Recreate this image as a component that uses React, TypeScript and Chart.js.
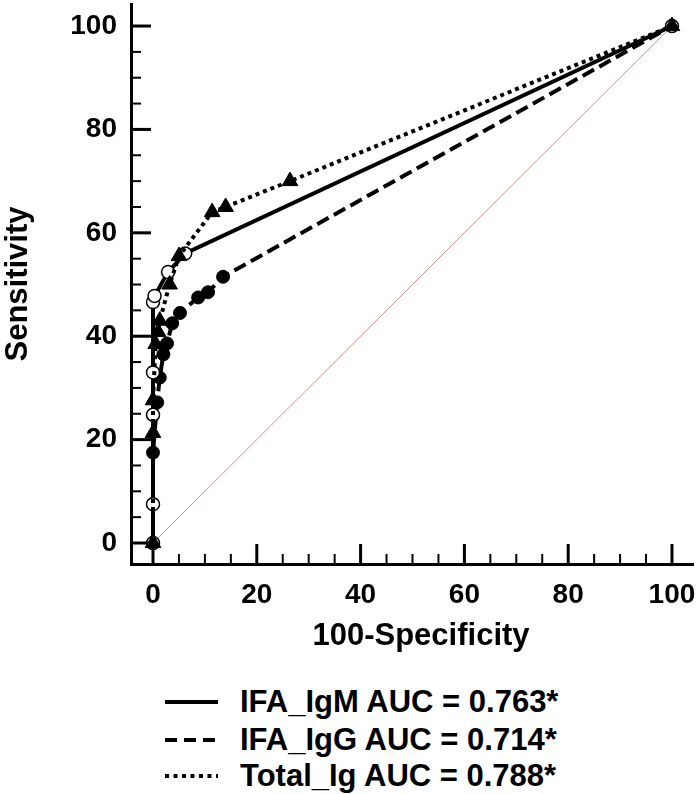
import React, { useEffect, useRef } from "react";
import { Chart, registerables } from "chart.js";

Chart.register(...registerables);

// ---- data ----
const igmX = [0, 0, 0, 0, 0, 0.3, 2.9, 6.2, 100];
const igmY = [0, 7.5, 24.8, 33, 46.6, 47.8, 52.4, 56, 100];

const iggX = [0, 0, 0.8, 1.3, 2, 2.7, 3.7, 5.2, 8.7, 10.6, 13.5, 100];
const iggY = [0, 17.5, 27.2, 32, 36.5, 38.6, 42.5, 44.5, 47.5, 48.5, 51.5, 100];

const totalX = [0, 0, 0, 0.5, 1, 1.3, 3.2, 5, 11.4, 14, 26.4, 100];
const totalY = [0, 21.3, 27.6, 38.5, 40.8, 43, 50, 55.5, 64, 65, 70, 100];

const diagX = [0, 100];
const diagY = [0, 100];

const majorTicks = [0, 20, 40, 60, 80, 100];
const minorTicks = [5, 10, 15, 25, 30, 35, 45, 50, 55, 65, 70, 75, 85, 90, 95];

const xTitle = "100-Specificity";
const yTitle = "Sensitivity";
const legendLabels = ["IFA_IgM AUC = 0.763*", "IFA_IgG AUC = 0.714*", "Total_Ig AUC = 0.788*"];
const legendDash = ["", "12 7", "4 4.5"];

const FONT = "'Liberation Sans', Arial, Helvetica, sans-serif";

const pts = (xs: number[], ys: number[]) => xs.map((x, i) => ({ x, y: ys[i] }));

const tickPlugin = {
  id: "innerTicks",
  afterDraw(chart: any) {
    const { ctx, chartArea, scales } = chart;
    const xs = scales.x;
    const ys = scales.y;
    ctx.save();
    ctx.strokeStyle = "#000";
    ctx.lineCap = "butt";
    const draw = (vals: number[], len: number, w: number) => {
      ctx.lineWidth = w;
      for (const v of vals) {
        const px = xs.getPixelForValue(v);
        ctx.beginPath();
        ctx.moveTo(px, chartArea.bottom);
        ctx.lineTo(px, chartArea.bottom - len);
        ctx.stroke();
        const py = ys.getPixelForValue(v);
        ctx.beginPath();
        ctx.moveTo(chartArea.left, py);
        ctx.lineTo(chartArea.left + len, py);
        ctx.stroke();
      }
    };
    draw(majorTicks, 20, 3);
    draw(minorTicks, 10, 2);
    // x axis title
    ctx.fillStyle = "#000";
    ctx.font = `bold 31px ${FONT}`;
    ctx.textAlign = "center";
    ctx.textBaseline = "middle";
    ctx.fillText(xTitle, 421, 636);
    ctx.restore();
  },
};

const zeroPad = (s: any) => {
  s.paddingTop = 0;
  s.paddingBottom = 0;
  s.paddingLeft = 0;
  s.paddingRight = 0;
};

function ROCChart() {
  const ref = useRef<HTMLCanvasElement | null>(null);
  useEffect(() => {
    if (!ref.current) return;
    const chart = new Chart(ref.current, {
      type: "scatter",
      data: {
        datasets: [
          {
            label: legendLabels[2],
            data: pts(totalX, totalY),
            showLine: true,
            borderColor: "#000",
            borderWidth: 4,
            borderDash: [4, 4],
            borderCapStyle: "butt",
            pointStyle: "triangle",
            pointRadius: 9,
            pointBackgroundColor: "#000",
            pointBorderColor: "#000",
            pointBorderWidth: 1,
            order: 0,
          },
          {
            label: legendLabels[0],
            data: pts(igmX, igmY),
            showLine: true,
            borderColor: "#000",
            borderWidth: 4,
            pointStyle: "circle",
            pointRadius: 6.5,
            pointBackgroundColor: "#fff",
            pointBorderColor: "#000",
            pointBorderWidth: 1.5,
            order: 1,
          },
          {
            label: legendLabels[1],
            data: pts(iggX, iggY),
            showLine: true,
            borderColor: "#000",
            borderWidth: 4,
            borderDash: [13, 6],
            borderCapStyle: "butt",
            pointStyle: "circle",
            pointRadius: 6.5,
            pointBackgroundColor: "#000",
            pointBorderColor: "#000",
            pointBorderWidth: 1,
            order: 2,
          },
          {
            label: "ref",
            data: pts(diagX, diagY),
            showLine: true,
            borderColor: "#d98a86",
            borderWidth: 1,
            pointRadius: 0,
            order: 3,
          },
        ],
      } as any,
      options: {
        animation: false,
        responsive: false,
        maintainAspectRatio: false,
        layout: { autoPadding: false, padding: { left: 0, right: 7, top: 4, bottom: 0 } },
        plugins: { legend: { display: false }, tooltip: { enabled: false } },
        scales: {
          x: {
            type: "linear",
            min: -4.24,
            max: 104.05,
            afterBuildTicks: (s: any) => {
              s.ticks = majorTicks.map((v) => ({ value: v }));
            },
            afterFit: (s: any) => {
              s.height = 96;
              zeroPad(s);
            },
            grid: { display: false, drawTicks: false },
            border: { display: true, color: "#000", width: 3 },
            ticks: {
              color: "#000",
              padding: 14,
              maxRotation: 0,
              font: { family: FONT, size: 28, weight: "bold" },
            },
            title: { display: false },
          },
          y: {
            type: "linear",
            min: -4.06,
            max: 104.26,
            afterBuildTicks: (s: any) => {
              s.ticks = majorTicks.map((v) => ({ value: v }));
            },
            afterFit: (s: any) => {
              s.width = 131;
              zeroPad(s);
            },
            grid: { display: false, drawTicks: false },
            border: { display: true, color: "#000", width: 3 },
            ticks: {
              color: "#000",
              padding: 14,
              font: { family: FONT, size: 28, weight: "bold" },
            },
            title: {
              display: true,
              text: yTitle,
              color: "#000",
              padding: { top: 0, bottom: 0 },
              font: { family: FONT, size: 31, weight: "bold" },
            },
          },
        },
      } as any,
      plugins: [tickPlugin],
    });
    return () => chart.destroy();
  }, []);
  return <canvas ref={ref} width={700} height={660} style={{ display: "block", width: 700, height: 660 }} />;
}

function Legend() {
  const centers = [702, 740, 776];
  return (
    <>
      {legendLabels.map((lab, i) => (
        <div
          key={lab}
          style={{
            position: "absolute",
            left: 0,
            top: centers[i] - 17,
            height: 34,
            width: 700,
          }}
        >
          <svg width={60} height={34} style={{ position: "absolute", left: 163, top: 0 }}>
            <line
              x1={2}
              y1={17}
              x2={55}
              y2={17}
              stroke="#000"
              strokeWidth={4}
              strokeDasharray={legendDash[i] || undefined}
            />
          </svg>
          <span
            style={{
              position: "absolute",
              left: 240,
              top: 0,
              lineHeight: "34px",
              fontFamily: FONT,
              fontWeight: "bold",
              fontSize: 31,
              color: "#000",
              whiteSpace: "nowrap",
            }}
          >
            {lab}
          </span>
        </div>
      ))}
    </>
  );
}

export default function App() {
  return (
    <div style={{ position: "absolute", left: 0, top: 0, width: 700, height: 794, background: "#fff" }}>
      <ROCChart />
      <Legend />
    </div>
  );
}
